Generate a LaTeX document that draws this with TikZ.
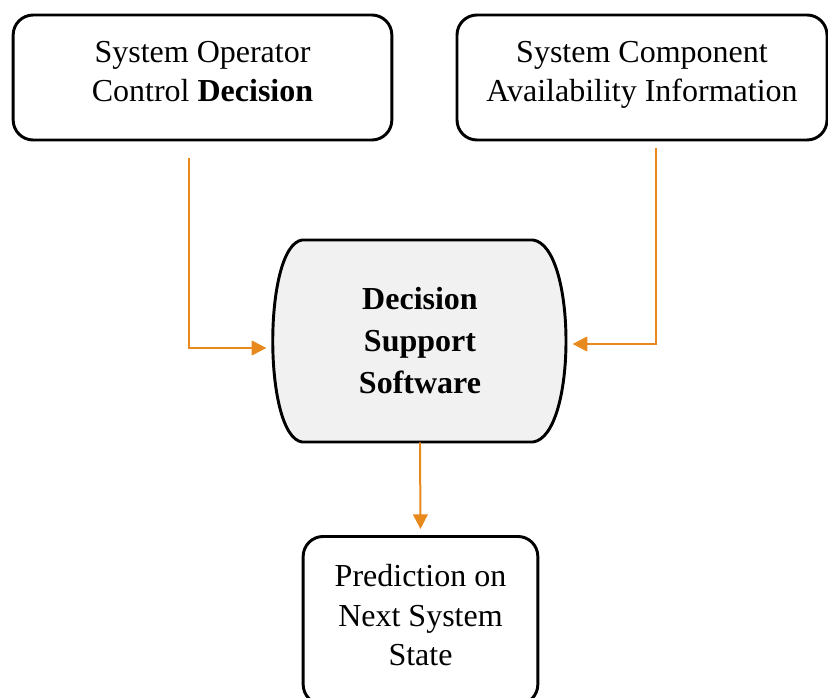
\documentclass[tikz,border=0pt]{standalone}
\usepackage{fontspec}
\setmainfont{Liberation Serif}
\usetikzlibrary{arrows.meta}
\definecolor{flowOrange}{RGB}{232,137,30}
\definecolor{dssGray}{RGB}{241,241,241}
\tikzset{
  infobox/.style={draw, line width=2.2pt, rounded corners=15pt, align=center,
    font=\fontsize{24}{29.5}\selectfont, minimum height=93.75pt, text depth=9pt},
  flow/.style={draw=flowOrange, line width=1.5pt,
    -{Triangle[length=11pt,width=11pt]}},
}
\begin{document}
\begin{tikzpicture}[x=0.75pt,y=-0.75pt]
			\useasboundingbox (0,0) rectangle (828,698);
			% boxes on top
			\node(SysOpDecision)	[infobox, minimum width=284pt] at (202.5,77.5)
				{System Operator\\Control \textbf{Decision}};
			\node(CompAvail)		[infobox, minimum width=277.5pt] at (642,77.5)
				{System Component\\Availability Information};
			% decision support software, barrel shape
			\filldraw[fill=dssGray, line width=2.2pt] (302,240) -- (533,240)
				.. controls (577,246) and (577,436) .. (533,442) -- (302,442)
				.. controls (263,436) and (263,246) .. (302,240) -- cycle;
			\node(DSS)		[minimum width=218pt, minimum height=151.5pt, align=center,
				font=\fontsize{24}{31.5}\selectfont\bfseries] at (420,341)
				{Decision\\Support\\Software};
			% result
			\node(Prediction)	[infobox, minimum width=176pt, minimum height=126pt,
				text depth=8pt, anchor=north] at (420.5,535)
				{Prediction on\\Next System\\State};
			\draw[flow]([xshift=-10.1pt,yshift=-12.75pt]SysOpDecision.south) |- ([xshift=-6pt,yshift=-5.25pt]DSS.west);
			\draw[flow]([xshift=10.5pt,yshift=-5.25pt]CompAvail.south) |- ([xshift=5.25pt,yshift=-2.25pt]DSS.east);
			\draw[flow](DSS.south)      -- ([yshift=4.5pt]Prediction.north);
		\end{tikzpicture}
\end{document}
